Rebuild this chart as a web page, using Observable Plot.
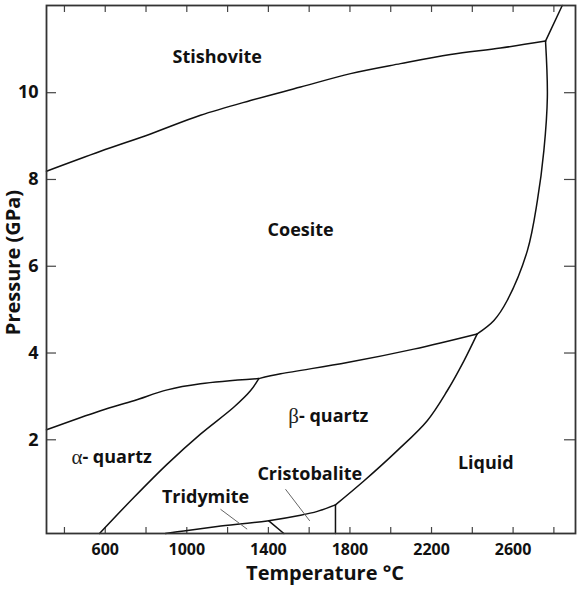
<!DOCTYPE html>
<html>
<head>
<meta charset="utf-8">
<script src="https://cdn.jsdelivr.net/npm/d3@7"></script>
<script src="https://cdn.jsdelivr.net/npm/@observablehq/plot@0.6"></script>
<style>
  html, body { margin: 0; padding: 0; background: #fff; }
  #chart svg { display: block; }
</style>
</head>
<body>
<div id="chart"></div>
<script>
// SiO2 phase boundaries, each point is [temperature °C, pressure GPa]
const stishoviteCoesite = [[312, 8.19], [577, 8.65], [822, 9.05], [1067, 9.48], [1312, 9.82], [1558, 10.13], [1803, 10.44], [2048, 10.67], [2293, 10.88], [2538, 11.03], [2759, 11.19]];
const stishoviteLiquid = [[2759, 11.19], [2841, 12.01]];
const coesiteLiquid = [[2759, 11.19], [2768, 9.90], [2751, 8.67], [2719, 7.51], [2670, 6.36], [2571, 5.21], [2506, 4.75], [2424, 4.44]];
const betaQuartzCoesite = [[1353, 3.41], [1460, 3.52], [1787, 3.78], [2113, 4.09], [2424, 4.44]];
const alphaQuartzCoesite = [[312, 2.23], [577, 2.67], [740, 2.90], [904, 3.15], [1067, 3.29], [1353, 3.41]];
const alphaBetaQuartz = [[572, -0.16], [740, 0.67], [904, 1.44], [1067, 2.13], [1230, 2.75], [1312, 3.13], [1353, 3.41]];
const betaQuartzLowP = [[895, -0.16], [985, -0.10], [1149, 0], [1394, 0.13], [1558, 0.26], [1640, 0.35], [1729, 0.50]];
const tridymiteCristobalite = [[1402, 0.13], [1476, -0.16]];
const cristobaliteLiquid = [[1729, 0.50], [1729, -0.16]];
const liquidBetaQuartz = [[1729, 0.50], [1868, 1.05], [2032, 1.75], [2179, 2.44], [2277, 3.13], [2359, 3.82], [2424, 4.44]];

const boundaries = [stishoviteCoesite, stishoviteLiquid, coesiteLiquid, betaQuartzCoesite,
  alphaQuartzCoesite, alphaBetaQuartz, betaQuartzLowP, tridymiteCristobalite,
  cristobaliteLiquid, liquidBetaQuartz];

// Thin pointer lines from small-field labels into their fields
const leaderFrom = [[1165, 0.40], [1484, 0.86]];
const leaderTo = [[1296, -0.06], [1603, 0.13]];

// Phase field names
const phaseNames = ["Stishovite", "Coesite", "Cristobalite", "Tridymite", "Liquid"];
const phaseT = [1149, 1558, 1603, 1092, 2466];
const phaseP = [10.82, 6.82, 1.21, 0.67, 1.45];

// Quartz polymorphs: Greek prefix + name, anchored where the two parts meet
const quartzGreek = ["α", "β"];
const quartzRest = ["- quartz", "- quartz"];
const quartzT = [488, 1550];
const quartzP = [1.59, 2.55];

// Axes
const tempTicks = [400, 600, 800, 1000, 1200, 1400, 1600, 1800, 2000, 2200, 2400, 2600, 2800];
const tempLabels = [600, 1000, 1400, 1800, 2200, 2600];
const pressureTicks = [2, 4, 6, 8, 10];
const tempDomain = [312, 2906];
const pressureDomain = [-0.16, 12.01];

const W = 578, H = 594;
const mL = 46, mR = 3, mT = 5, mB = 61;
const frameW = W - mL - mR, frameH = H - mT - mB;

const phaseData = phaseNames.map((name, i) => ({name, T: phaseT[i], P: phaseP[i]}));
const quartzData = quartzGreek.map((g, i) => ({greek: g, rest: quartzRest[i], T: quartzT[i], P: quartzP[i]}));
const leaderData = leaderFrom.map((a, i) => ({x1: a[0], y1: a[1], x2: leaderTo[i][0], y2: leaderTo[i][1]}));

const sans = "'Open Sans', 'DejaVu Sans', sans-serif";

const chart = Plot.plot({
  width: W,
  height: H,
  marginLeft: mL,
  marginRight: mR,
  marginTop: mT,
  marginBottom: mB,
  style: {fontFamily: sans, color: "#111", background: "#fff"},
  x: {domain: tempDomain},
  y: {domain: pressureDomain},
  marks: [
    // inward ticks on all four sides
    Plot.tickX(tempTicks, {x: d => d, insetTop: frameH - 6, stroke: "#444", strokeWidth: 1.2}),
    Plot.tickX(tempTicks, {x: d => d, insetBottom: frameH - 7, stroke: "#444", strokeWidth: 1.2}),
    Plot.tickY(pressureTicks, {y: d => d, insetRight: frameW - 10, stroke: "#444", strokeWidth: 1.2}),
    Plot.tickY(pressureTicks, {y: d => d, insetLeft: frameW - 11, stroke: "#444", strokeWidth: 1.2}),
    Plot.axisX(tempLabels, {tickSize: 0, tickPadding: 10, fontSize: 16, fontWeight: "bold", tickFormat: "d", label: null}),
    Plot.axisY(pressureTicks, {tickSize: 0, tickPadding: 8, fontSize: 18, fontWeight: "bold", tickFormat: "d", label: null}),
    Plot.text(["Temperature °C"], {frameAnchor: "bottom", textAnchor: "middle", dx: 14, dy: 46, fontSize: 20, fontWeight: "bold"}),
    Plot.text(["Pressure (GPa)"], {frameAnchor: "left", textAnchor: "middle", rotate: -90, dx: -33, dy: -7, fontSize: 20, fontWeight: "bold"}),
    // phase boundaries
    ...boundaries.map(b => Plot.line(b, {x: d => d[0], y: d => d[1], curve: "catmull-rom", stroke: "#111", strokeWidth: 1.5})),
    Plot.link(leaderData, {x1: "x1", y1: "y1", x2: "x2", y2: "y2", stroke: "#666", strokeWidth: 1}),
    // labels
    Plot.text(phaseData, {x: "T", y: "P", text: "name", fontSize: 18, fontWeight: "bold", fill: "#111"}),
    Plot.text(quartzData, {x: "T", y: "P", text: "rest", textAnchor: "start", fontSize: 18, fontWeight: "bold", fill: "#111"}),
    Plot.text(quartzData, {x: "T", y: "P", text: "greek", textAnchor: "end", fontSize: 21, fontWeight: "normal", fontFamily: "'Liberation Serif', 'DejaVu Serif', serif", fill: "#222"}),
    Plot.frame({stroke: "#333", strokeWidth: 1.8})
  ]
});

document.getElementById("chart").appendChild(chart);
</script>
</body>
</html>
